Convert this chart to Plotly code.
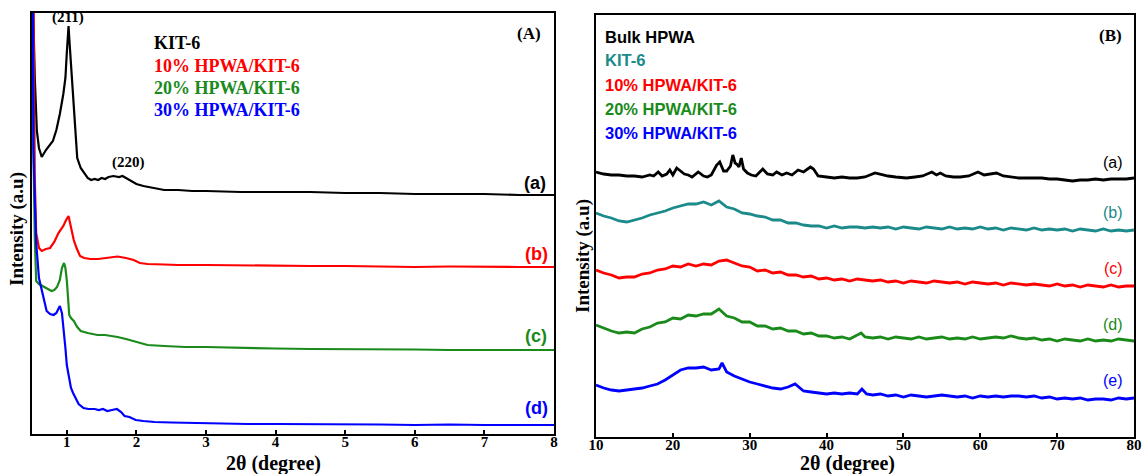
import plotly.graph_objects as go

W, H = 1142, 474

# ---------------- Panel (A): low-angle XRD, 2θ = 0.5–8° ----------------
a_kit6_x = [0.50, 0.52, 0.54, 0.57, 0.60, 0.64, 0.70, 0.76, 0.80, 0.85, 0.90, 0.95, 0.98, 1.00,
            1.025, 1.04, 1.06, 1.08, 1.10, 1.12, 1.15, 1.20, 1.25, 1.30, 1.35, 1.40, 1.45, 1.50,
            1.55, 1.60, 1.67, 1.75, 1.80, 1.85, 1.92, 2.00, 2.10, 2.25, 2.40, 2.60, 2.80, 3.00,
            3.50, 4.00, 4.50, 5.00, 5.50, 6.00, 6.50, 7.00, 7.50, 8.00]
a_kit6_y = [636, 416, 356, 303, 286, 277, 284, 290, 293, 304, 320, 340, 356, 381,
            408, 391, 369, 344, 326, 301, 276, 266, 261, 256, 254, 255, 254, 256,
            255, 257, 258, 257, 258, 256, 254, 250, 248, 246, 244, 244, 243, 243,
            242, 242, 242, 241, 241, 240, 240, 240, 239, 239]

a_10_x = [0.50, 0.52, 0.54, 0.56, 0.60, 0.64, 0.70, 0.76, 0.82, 0.88, 0.95, 0.99, 1.025, 1.05,
          1.07, 1.10, 1.14, 1.19, 1.25, 1.34, 1.45, 1.55, 1.65, 1.73, 1.85, 1.96, 2.05, 2.16,
          2.40, 2.60, 3.00, 3.50, 4.00, 4.50, 5.00, 5.50, 6.00, 6.50, 7.00, 7.50, 8.00]
a_10_y = [636, 416, 256, 201, 186, 183, 185, 186, 192, 201, 208, 214, 218, 210,
          203, 194, 186, 178, 176, 175, 175, 176, 177, 177.5, 176, 174, 171, 170,
          169.5, 169, 169, 168.5, 168, 168, 168, 167.5, 167, 167.5, 167, 167, 167]

a_20_x = [0.50, 0.52, 0.54, 0.56, 0.60, 0.65, 0.70, 0.75, 0.78, 0.82, 0.86, 0.90, 0.93, 0.96,
          0.98, 1.00, 1.02, 1.035, 1.06, 1.10, 1.15, 1.20, 1.30, 1.44, 1.55, 1.65, 1.73, 1.85,
          1.96, 2.05, 2.16, 2.40, 2.70, 3.00, 3.50, 4.00, 4.50, 5.00, 5.50, 6.00, 6.50, 7.00,
          7.50, 8.00]
a_20_y = [636, 286, 196, 153, 150, 148, 146, 144, 143, 144, 147, 154, 166, 171,
          166, 154, 131, 119, 116, 113, 107, 103, 101, 99, 99, 98, 97, 95,
          93, 91, 89, 88, 87, 87, 86, 85.5, 85, 85, 84.5, 84.5, 84, 84,
          84, 84]

a_30_x = [0.50, 0.51, 0.52, 0.54, 0.56, 0.60, 0.64, 0.68, 0.71, 0.76, 0.81, 0.85, 0.88, 0.90,
          0.93, 0.95, 0.98, 1.00, 1.035, 1.06, 1.09, 1.13, 1.17, 1.24, 1.31, 1.40, 1.46, 1.52,
          1.58, 1.65, 1.72, 1.78, 1.83, 1.90, 1.99, 2.10, 2.26, 2.50, 2.80, 3.20, 3.60, 4.00,
          4.50, 5.00, 5.50, 6.00, 6.50, 7.00, 7.50, 8.00]
a_30_y = [636, 386, 286, 236, 191, 156, 143, 131, 123, 120, 119, 121, 126, 128,
          121, 109, 86, 69, 54, 46, 41, 35, 30, 26, 25, 25, 24, 25,
          23, 24, 25, 22, 18, 17, 14, 13, 12, 11.5, 11, 10.5, 10, 10,
          10, 9.5, 9.5, 9, 9.5, 9, 9, 9]

# ---------------- Panel (B): wide-angle XRD, 2θ = 10–80° ----------------
b_bulk_x = [10, 11, 12, 13, 14, 15, 16, 17, 17.5, 18.1, 18.6, 19.2, 19.6, 20.0, 20.5, 21.0,
            21.5, 22.0, 22.5, 23.3, 24.0, 24.5, 25.0, 25.7, 26.1, 26.6, 27.0, 27.5, 27.8, 28.1,
            28.3, 28.6, 28.9, 29.2, 29.7, 30.2, 30.8, 31.7, 32.3, 33.0, 33.5, 34.2, 34.8, 35.5,
            36.3, 37.0, 37.9, 38.3, 38.9, 40, 41, 42, 43, 44, 45, 46.3, 47.2, 48, 49, 50.4,
            51.5, 52.5, 53.7, 54.3, 54.8, 55.5, 56.5, 57.4, 58.5, 59.7, 60.5, 61.2, 62.1, 63,
            64, 65, 66, 67, 68, 69, 70, 71, 72, 73, 74, 75, 76, 77, 78, 79, 80]
b_bulk_y = [265, 263, 262, 262, 261, 261, 260, 262, 261, 265, 261, 263, 267, 262, 269, 266,
            263, 262, 260, 265, 261, 260, 262, 272, 275, 266, 266, 271, 282, 274,
            273, 270, 279, 268, 264, 262, 261, 268, 263, 262, 265, 262, 264, 262,
            267, 265, 270, 268, 261, 260, 259, 260, 259, 259, 260, 264, 262, 261, 260, 259,
            260, 261, 265, 262, 264, 261, 260, 260, 261, 265, 262, 263, 264, 261,
            260, 259, 259, 259, 259, 258, 258, 257, 256, 257, 257, 258, 257, 258, 258, 258, 259]

deg = list(range(10, 81))

b_kit6_y = [224, 221, 219, 216, 215, 217, 219, 222, 224, 226, 229, 231, 233, 233, 235, 232,
            236, 230, 228, 224, 223, 221, 220, 217, 217, 214, 214, 212, 211, 211, 209, 211,
            209, 210, 210, 209, 210, 209, 210, 208, 210, 209, 208, 210, 209, 208, 210, 208,
            209, 208, 210, 208, 209, 207, 209, 208, 207, 209, 207, 208, 207, 208, 206, 208,
            207, 206, 208, 206, 207, 206, 207]

b_10_y = [167, 164, 162, 159, 160, 160, 163, 164, 167, 168, 171, 170, 173, 171, 173, 172,
          176, 177, 174, 171, 170, 166, 167, 164, 165, 162, 162, 160, 161, 158, 159, 157,
          158, 156, 158, 157, 156, 157, 155, 156, 154, 156, 155, 154, 156, 155, 154, 155,
          153, 155, 154, 153, 154, 152, 154, 153, 152, 153, 152, 151, 153, 151, 152, 150,
          152, 151, 150, 152, 150, 151, 151]

b_20_x = deg[:35] + [44.5] + deg[35:]
b_20_y = [112, 109, 106, 104, 105, 104, 108, 110, 114, 115, 119, 118, 122, 121, 123, 123,
          128, 121, 119, 115, 115, 111, 111, 108, 109, 106, 106, 103, 104, 101, 101, 99,
          100, 98, 102, 104, 100, 99, 100, 98, 100, 99, 98, 100, 98, 99, 100, 98, 99, 98,
          100, 98, 99, 100, 99, 101, 99, 98, 99, 97, 98, 96, 98, 97, 96, 98, 96, 97, 96,
          98, 97, 96]

b_30_x = [10, 11, 12, 13, 14, 15, 16, 17, 18, 19, 20, 21, 22, 23, 24, 25, 26, 26.4, 27, 28,
          29, 30, 31, 32, 33, 34, 35, 35.9, 37, 38, 39, 40, 41, 42, 43, 44, 44.6, 45.2, 46,
          47, 48, 49, 50, 51, 52, 53, 54, 55, 56, 57, 58, 59, 60, 61, 62, 63, 64, 65, 66,
          67, 68, 69, 70, 71, 72, 73, 74, 75, 76, 77, 78, 79, 80]
b_30_y = [52, 49, 47, 46, 47, 48, 49, 51, 53, 57, 62, 67, 69, 69, 70, 67, 68, 74, 65, 61,
          58, 55, 53, 51, 49, 48, 50, 53, 46, 45, 44, 43, 44, 43, 44, 43, 48, 43, 42,
          43, 41, 42, 40, 42, 41, 40, 41, 42, 41, 40, 41, 39, 41, 40, 41, 40, 41, 41, 40,
          41, 39, 40, 38, 39, 38, 39, 37, 38, 38, 37, 39, 38, 39]

BLACK, TEAL, RED, GREEN, BLUE = "#000000", "#1a8a8a", "#ff0000", "#1a8a1a", "#0000ff"

fig = go.Figure()

panel_a = [(a_kit6_x, a_kit6_y, BLACK), (a_10_x, a_10_y, RED),
           (a_20_x, a_20_y, GREEN), (a_30_x, a_30_y, BLUE)]
for xs, ys, c in panel_a:
    fig.add_trace(go.Scatter(x=xs, y=ys, mode="lines", line=dict(color=c, width=2.2),
                             xaxis="x", yaxis="y", showlegend=False, hoverinfo="skip"))

panel_b = [(b_bulk_x, b_bulk_y, BLACK), (deg, b_kit6_y, TEAL), (deg, b_10_y, RED),
           (b_20_x, b_20_y, GREEN), (b_30_x, b_30_y, BLUE)]
for xs, ys, c in panel_b:
    fig.add_trace(go.Scatter(x=xs, y=ys, mode="lines", line=dict(color=c, width=2.8),
                             xaxis="x2", yaxis="y2", showlegend=False, hoverinfo="skip"))


def px(x):
    return x / W


def py(y):
    return 1 - y / H


SERIF = "Liberation Serif"
SANS = "Liberation Sans"
tickfont = dict(family=SERIF, size=15, color="black", weight="bold")
frame = dict(showline=True, linecolor="black", linewidth=2, mirror=True,
             showgrid=False, zeroline=False, automargin=False)
xticks = dict(ticks="inside", ticklen=4, tickwidth=2, tickcolor="black", tickfont=tickfont,
              ticklabelstandoff=-7)

fig.update_layout(
    width=W, height=H, margin=dict(l=0, r=0, t=0, b=0, autoexpand=False),
    paper_bgcolor="white", plot_bgcolor="white",
    xaxis=dict(domain=[px(32), px(554)], range=[0.5, 8], tickvals=[1, 2, 3, 4, 5, 6, 7, 8],
               anchor="y", **xticks, **frame),
    yaxis=dict(domain=[py(434), py(13)], range=[0, 421], showticklabels=False, ticks="",
               anchor="x", **frame),
    xaxis2=dict(domain=[px(596), px(1134)], range=[10, 80],
                tickvals=[10, 20, 30, 40, 50, 60, 70, 80],
                anchor="y2", **xticks, **frame),
    yaxis2=dict(domain=[py(437), py(15)], range=[0, 422], showticklabels=False, ticks="",
                anchor="x2", **frame),
)


def note(x, y, text, color="black", size=16, family=SERIF, weight="bold",
         xanchor="center", angle=0):
    fig.add_annotation(x=px(x), y=py(y), xref="paper", yref="paper", text=text,
                       showarrow=False, xanchor=xanchor, yanchor="middle", textangle=angle,
                       font=dict(family=family, size=size, color=color, weight=weight))


# Panel (A) labels
note(68, 17, "(211)", size=15)
note(128, 162, "(220)", size=15)
note(529, 33, "(A)", size=17)
note(152, 43, "KIT-6", BLACK, 18, xanchor="left")
note(152, 66, "10% HPWA/KIT-6", RED, 18, xanchor="left")
note(152, 88, "20% HPWA/KIT-6", GREEN, 18, xanchor="left")
note(152, 110, "30% HPWA/KIT-6", BLUE, 18, xanchor="left")
note(535, 183, "(a)", BLACK, 18, SANS)
note(536, 254, "(b)", RED, 18, SANS)
note(536, 336, "(c)", GREEN, 18, SANS)
note(536, 408, "(d)", BLUE, 18, SANS)
note(17, 229, "Intensity (a.u)", size=19, angle=-90)
note(273, 463, "2θ (degree)", size=20)

# Panel (B) labels
note(1110, 36, "(B)", size=17)
note(603, 37, "Bulk HPWA", BLACK, 16.5, SANS, xanchor="left")
note(603, 60, "KIT-6", TEAL, 16.5, SANS, xanchor="left")
note(603, 85, "10% HPWA/KIT-6", RED, 16.5, SANS, xanchor="left")
note(603, 109, "20% HPWA/KIT-6", GREEN, 16.5, SANS, xanchor="left")
note(603, 133, "30% HPWA/KIT-6", BLUE, 16.5, SANS, xanchor="left")
note(1113, 162, "(a)", BLACK, 16, SANS, weight="normal")
note(1113, 212, "(b)", TEAL, 16, SANS, weight="normal")
note(1113, 268, "(c)", RED, 16, SANS, weight="normal")
note(1113, 324, "(d)", GREEN, 16, SANS, weight="normal")
note(1113, 380, "(e)", BLUE, 16, SANS, weight="normal")
note(583, 256, "Intensity (a.u)", size=19, angle=-90)
note(848, 463, "2θ (degree)", size=20)

fig.write_html("out.html")
